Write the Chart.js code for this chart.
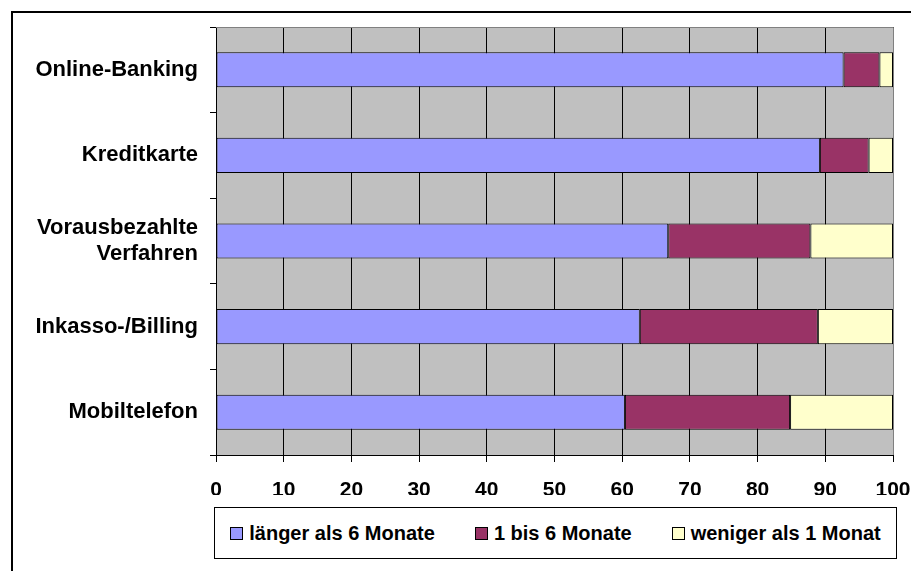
<!DOCTYPE html>
<html>
<head>
<meta charset="utf-8">
<script src="https://cdn.jsdelivr.net/npm/chart.js@4/dist/chart.umd.min.js"></script>
<style>
  html, body { margin: 0; padding: 0; background: #fff; }
  #wrap { position: relative; width: 911px; height: 571px; overflow: hidden; }
  #c { position: absolute; left: 0; top: 0; }
  #legend {
    position: absolute; left: 214px; top: 507px; width: 681px; height: 50px;
    border: 1px solid #000; background: #fff;
    display: flex; align-items: center; justify-content: center; gap: 40px;
    font-family: "Liberation Sans", Arial, sans-serif; font-weight: bold; font-size: 20px; color: #000;
  }
  #legend .item { display: flex; align-items: center; white-space: nowrap; }
  #legend .sw { width: 11px; height: 11px; border: 1px solid #000; margin-right: 6px; }
</style>
</head>
<body>
<div id="wrap">
  <canvas id="c" width="911" height="571"></canvas>
  <div id="legend"></div>
</div>
<script>
const categories = ["Online-Banking", "Kreditkarte", ["Vorausbezahlte", "Verfahren"], "Inkasso-/Billing", "Mobiltelefon"];
const seriesNames = ["länger als 6 Monate", "1 bis 6 Monate", "weniger als 1 Monat"];
const longerThan6 = [92.7, 89.2, 66.8, 62.6, 60.4];
const from1to6 = [5.3, 7.2, 21.0, 26.3, 24.4];
const lessThan1 = [2.0, 3.6, 12.2, 11.1, 15.2];
const xTicks = [0, 10, 20, 30, 40, 50, 60, 70, 80, 90, 100];
const colors = ["#9999FF", "#993366", "#FFFFCC"];

const FONT = '"Liberation Sans", Arial, sans-serif';

const bgPlugin = {
  id: 'bg',
  beforeDraw(chart) {
    const { ctx, chartArea: a } = chart;
    ctx.save();
    ctx.fillStyle = '#C0C0C0';
    ctx.fillRect(a.left, a.top, a.right - a.left, a.bottom - a.top);
    ctx.restore();
  },
  afterDraw(chart) {
    const { ctx, chartArea: a } = chart;
    ctx.save();
    ctx.strokeStyle = '#808080';
    ctx.lineWidth = 1;
    ctx.beginPath();
    ctx.moveTo(a.left, a.top + 0.5);
    ctx.lineTo(a.right + 0.5, a.top + 0.5);
    ctx.lineTo(a.right + 0.5, a.bottom);
    ctx.stroke();
    ctx.strokeStyle = '#000';
    ctx.lineWidth = 2;
    ctx.strokeRect(12, 12, 1200, 1200);
    ctx.restore();
  }
};

const datasets = [longerThan6, from1to6, lessThan1].map((d, i) => ({
  label: seriesNames[i],
  data: d,
  backgroundColor: colors[i],
  borderColor: '#000',
  borderWidth: 1,
  borderSkipped: false,
  barPercentage: 0.41,
  categoryPercentage: 1.0
}));

const chart = new Chart(document.getElementById('c'), {
  type: 'bar',
  data: { labels: categories, datasets },
  options: {
    indexAxis: 'y',
    responsive: false,
    animation: false,
    layout: { padding: { top: 27, right: 18, bottom: 76, left: 0 } },
    plugins: { legend: { display: false }, tooltip: { enabled: false } },
    scales: {
      x: {
        stacked: true,
        min: 0, max: 100,
        afterBuildTicks(scale) { scale.ticks = xTicks.map(v => ({ value: v })); },
        afterFit(scale) { scale.height = 40; scale.paddingRight = 0; scale.paddingLeft = 0; },
        grid: { color: '#000', lineWidth: 1, tickLength: 7, drawTicks: true },
        border: { color: '#000', width: 1 },
        ticks: { color: '#000', font: { family: FONT, size: 21, weight: 'bold' }, padding: 16, maxRotation: 0 }
      },
      y: {
        stacked: true,
        afterFit(scale) { scale.width = 216; scale.paddingTop = 0; scale.paddingBottom = 0; },
        grid: { offset: true, drawOnChartArea: false, color: '#000', tickLength: 6 },
        border: { color: '#000', width: 1 },
        ticks: { color: '#000', font: { family: FONT, size: 22, weight: 'bold', lineHeight: 1.2 }, padding: 12 }
      }
    }
  },
  plugins: [bgPlugin]
});

const leg = document.getElementById('legend');
chart.data.datasets.forEach(ds => {
  const it = document.createElement('div');
  it.className = 'item';
  const sw = document.createElement('span');
  sw.className = 'sw';
  sw.style.background = ds.backgroundColor;
  const tx = document.createElement('span');
  tx.textContent = ds.label;
  it.appendChild(sw); it.appendChild(tx);
  leg.appendChild(it);
});
</script>
</body>
</html>
